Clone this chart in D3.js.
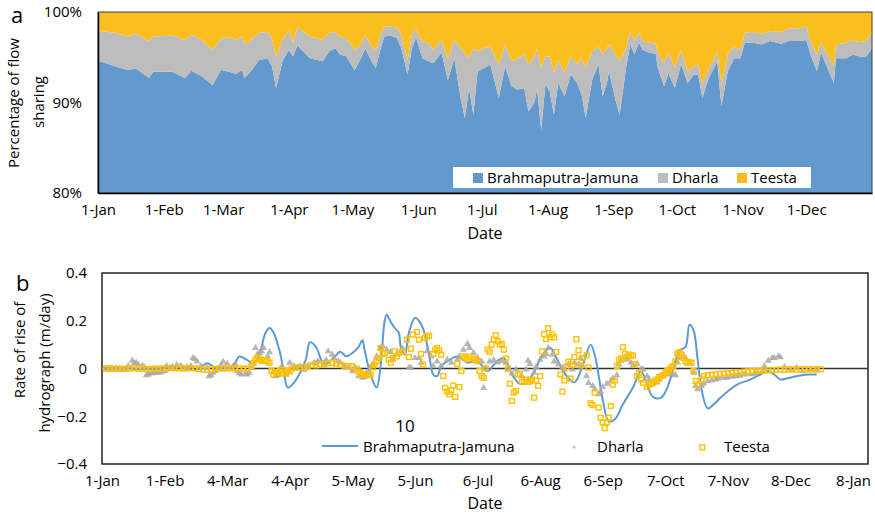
<!DOCTYPE html>
<html>
<head>
<meta charset="utf-8">
<script src="https://cdn.jsdelivr.net/npm/d3@7"></script>
<style>
  body { margin: 0; background: #fff; }
  svg { display: block; font-family: "Open Sans", sans-serif; }
</style>
</head>
<body>
<svg id="chart" width="875" height="516"></svg>
<script>
// ---- panel a: share of flow (%) ----
var flowDays = [0,1,8,14,18,24,26,35,41,44,49,54,58,62,65,68,69,72,76,80,82,84,87,90,92,94,100,106,109,112,114,117,121,124,126,129,131,133,135,138,141,143,146,148,150,151,153,156,158,162,165,168,171,173,175,177,179,182,185,189,192,195,198,201,203,206,207,209,211,213,215,217,220,223,226,228,230,233,236,238,240,241,244,246,249,251,253,255,257,260,263,264,267,269,272,275,278,281,283,285,288,290,292,294,297,300,303,305,309,313,317,322,326,331,334,336,339,341,344,347,348,353,356,359,362,365];
var bjShare = [94.5,94.55,94.0,93.6,93.75,92.7,93.4,93.4,92.7,93.5,92.9,91.9,93.6,93.4,93.15,93.6,92.7,93.45,94.7,94.9,94.0,91.6,94.55,95.8,95.1,96.3,94.9,94.55,95.65,96.0,95.3,95.1,93.6,94.9,96.0,94.55,93.8,95.65,97.3,97.4,97.1,96.0,93.1,96.0,97.2,96.4,94.9,94.55,94.35,95.5,92.5,94.9,90.5,88.3,91.6,88.65,93.45,93.8,94.2,90.5,94.0,91.8,91.4,91.6,89.0,90.1,91.6,87.0,92.0,91.25,88.65,92.15,90.7,93.1,92.15,90.9,88.3,92.5,94.2,90.7,92.15,93.45,90.3,88.65,93.8,96.4,95.3,96.6,95.8,95.5,95.35,93.8,91.8,93.25,91.6,94.25,92.15,93.1,93.1,90.5,92.7,93.6,94.55,89.6,93.45,94.9,94.9,96.6,96.6,96.4,96.8,96.5,96.8,96.8,96.9,95.3,93.45,95.5,93.8,92.15,94.9,94.9,95.3,95.1,95.0,96.0];
var dharlaShare = [3.3,3.35,3.7,3.7,3.85,4.1,3.9,4.0,4.2,4.0,4.0,3.9,3.45,3.8,3.75,3.7,3.7,3.45,3.0,2.9,3.1,3.4,2.35,2.2,1.5,2.0,2.4,2.35,2.05,1.8,2.0,2.0,2.2,1.5,1.5,1.65,2.0,1.85,1.1,1.0,1.2,1.5,1.6,1.5,1.1,1.1,1.9,1.95,1.45,1.4,2.4,2.0,5.5,7.2,3.3,7.35,2.2,2.2,2.0,3.7,2.4,2.75,3.5,3.7,5.2,5.0,4.4,6.8,3.1,3.85,4.6,2.55,2.55,2.0,2.05,4.0,5.5,3.15,2.0,4.6,3.85,2.95,5.0,5.9,2.2,1.4,1.5,1.1,1.0,1.1,1.15,1.7,2.55,2.25,2.2,1.55,1.3,0.9,1.1,1.5,1.1,0.95,1.1,2.4,1.85,1.3,0.9,1.1,1.2,1.2,1.1,1.3,1.4,1.4,1.5,1.5,1.85,1.1,1.5,1.85,1.5,1.7,1.6,1.55,1.8,1.7];
var teestaShare = [2.2,2.1,2.3,2.7,2.4,3.2,2.7,2.6,3.1,2.5,3.1,4.2,2.95,2.8,3.1,2.7,3.6,3.1,2.3,2.2,2.9,5.0,3.1,2.0,3.4,1.7,2.7,3.1,2.3,2.2,2.7,2.9,4.2,3.6,2.5,3.8,4.2,2.5,1.6,1.6,1.7,2.5,5.3,2.5,1.7,2.5,3.2,3.5,4.2,3.1,5.1,3.1,4.0,4.5,5.1,4.0,4.35,4.0,3.8,5.8,3.6,5.45,5.1,4.7,5.8,4.9,4.0,6.2,4.9,4.9,6.75,5.3,6.75,4.9,5.8,5.1,6.2,4.35,3.8,4.7,4.0,3.6,4.7,5.45,4.0,2.2,3.2,2.3,3.2,3.4,3.5,4.5,5.65,4.5,6.2,4.2,6.55,6.0,5.8,8.0,6.2,5.45,4.35,8.0,4.7,3.8,4.2,2.3,2.2,2.4,2.1,2.2,1.8,1.8,1.6,3.2,4.7,3.4,4.7,6.0,3.6,3.4,3.1,3.35,3.2,2.3];
var flowKeys = ["Brahmaputra-Jamuna", "Dharla", "Teesta"];
var shareTicks = [80, 90, 100];
var monthDays = [0,31,59,90,120,151,181,212,243,273,304,334];
var monthLabels = ["1-Jan","1-Feb","1-Mar","1-Apr","1-May","1-Jun","1-Jul","1-Aug","1-Sep","1-Oct","1-Nov","1-Dec"];

// ---- panel b: rate of rise of hydrograph (m/day) ----
var bjRiseDay = [0,10,20,30,37,42,47,52,56,61,65,68,72,75,78,81,83,85,88,90,92,95,98,101,103,106,109,111,115,118,121,124,127,129,130,133,136,138,140,141,143,145,147,148,150,152,155,157,159,162,164,166,168,171,176,181,186,191,195,199,203,207,210,214,218,222,225,230,234,238,242,244,246,248,251,254,258,263,267,270,273,277,280,284,286,289,291,293,295,297,300,303,306,310,315,320,325,330,333,336,340,345,350,354];
var bjRise = [0,0.002,-0.003,0.002,0.006,0,-0.005,0.022,0.004,0.002,0.01,0.05,0.035,0.02,0.06,0.15,0.17,0.15,0.072,-0.01,-0.08,-0.06,-0.02,0.04,0.11,0.09,0.03,0.02,0.047,0.07,0.051,0.065,0.09,0.118,0.08,-0.025,-0.08,0.01,0.2,0.225,0.195,0.17,0.15,0.09,0.058,0.15,0.212,0.2,0.168,0.06,-0.025,-0.032,0.01,0.03,0.05,0.025,0.03,-0.011,0.025,0.044,-0.025,-0.065,-0.06,-0.015,0.055,0.087,0.045,-0.03,-0.058,0.01,0.1,0.06,-0.03,-0.13,-0.222,-0.213,-0.15,-0.08,-0.01,-0.07,-0.12,-0.122,-0.08,0.03,0.075,0.09,0.183,0.16,0.04,-0.09,-0.167,-0.15,-0.125,-0.095,-0.065,-0.05,-0.03,-0.011,-0.025,-0.046,-0.04,-0.03,-0.025,-0.025];

var dharlaDay = [2,4,6,8,10,12,13,15,16,17,18,20,21,22,23,24,25,26,27,28,29,30,31,32,34,35,37,39,40,42,44,45,46,47,49,50,52,53,54,55,56,58,59,60,62,63,65,66,67,68,69,71,72,73,74,76,77,78,79,80,82,83,85,86,87,88,89,91,92,93,95,96,98,100,101,102,105,106,107,110,111,112,114,115,117,118,120,122,124,125,127,129,130,131,133,134,136,138,139,141,143,144,146,148,149,152,153,155,157,158,161,163,164,166,168,171,173,176,177,179,181,182,184,186,188,189,190,192,194,196,198,200,201,203,205,208,210,211,212,214,215,217,219,220,221,223,224,226,228,229,231,233,234,236,237,238,240,241,243,244,246,247,248,250,252,253,255,256,257,259,260,262,263,265,267,268,270,271,273,275,276,278,280,281,283,284,285,286,288,289,291,293,294,295,297,298,300,302,304,305,307,309,310,312,314,316,318,321,323,324,327,328,330,332,333,335,336,338,341,344,347,351,354];
var dharlaRise = [-0.003,-0.005,-0.004,-0.006,-0.005,-0.004,0.01,0.033,0.022,0.024,0.015,0.012,0.005,-0.028,-0.025,-0.018,-0.02,-0.018,-0.015,-0.018,-0.016,-0.012,-0.01,0.01,0.004,0.006,0.014,0.012,0.003,0.005,0.01,0.044,0.04,0.03,0.01,0.003,0.003,-0.032,-0.028,-0.018,-0.01,0,0.015,0.028,0.019,0.003,0.01,0.017,-0.011,-0.02,-0.025,-0.022,-0.025,-0.018,0.002,0.086,0.058,0.065,0.072,0.086,0.051,0.068,-0.011,-0.032,-0.028,-0.025,0.01,-0.025,-0.015,0.024,0.01,0.003,0.008,-0.005,0.004,0.01,0.024,0.02,0.03,0.02,0.035,0.072,0.058,0.044,0.03,0.024,0.01,0.003,-0.011,0.006,-0.032,-0.039,-0.035,-0.018,0.003,0.017,0.051,0.086,0.093,0.079,0.069,0.037,0.058,0.075,0.083,0.003,0.003,0.044,0.044,0.024,0.072,0.051,0.01,0.03,0.01,0.037,0.024,0.037,0.051,0.079,0.103,0.086,0.065,0.044,0.03,-0.081,0.003,0.03,0.035,0.025,0.032,0.024,-0.004,-0.021,-0.004,-0.032,-0.004,0.033,0.019,-0.018,0.006,0.037,0.051,0.061,0.086,0.058,0.03,0.017,0.003,-0.004,0.017,-0.004,0.024,0.017,0.044,0.01,-0.032,-0.06,-0.073,-0.087,-0.108,-0.097,-0.078,-0.064,-0.053,-0.042,-0.028,0.017,0.033,0.047,0.037,0.024,0.013,0.02,-0.004,-0.004,-0.032,-0.046,-0.053,-0.058,-0.046,-0.032,-0.025,-0.018,-0.025,-0.028,0.026,0.044,0.05,0.044,0.024,-0.018,-0.073,-0.087,-0.073,-0.064,-0.053,-0.05,-0.046,-0.042,-0.039,-0.038,-0.036,-0.034,-0.032,-0.03,-0.025,-0.024,-0.022,-0.02,-0.011,0.01,0.033,0.044,0.044,0.051,0.047,0.006,-0.004,0.003,-0.011,-0.004,-0.008,-0.004];

var teestaDay = [2,4,6,8,10,12,14,16,18,20,22,24,26,28,30,32,34,36,38,40,42,44,46,48,50,52,54,56,58,60,62,64,66,68,70,72,74,75,76,77,78,79,80,81,82,83,84,85,86,87,88,89,90,91,92,93,94,96,98,100,102,104,106,108,110,112,114,116,118,120,122,124,126,127,128,129,130,131,132,133,134,135,136,137,138,139,140,142,143,144,145,146,147,149,151,152,153,154,156,157,158,159,160,161,162,164,165,166,167,168,169,170,171,172,173,174,175,176,177,178,179,180,181,182,184,185,186,187,188,189,190,191,192,193,194,195,196,197,198,199,200,201,202,203,204,205,206,207,208,209,210,211,212,213,214,215,216,217,218,219,220,221,222,223,224,225,227,228,229,230,231,232,233,234,235,236,237,238,240,241,242,243,244,246,247,248,249,250,251,252,253,254,255,256,257,258,259,260,261,262,263,264,265,266,267,268,270,271,272,273,274,275,276,277,278,279,280,281,282,283,284,285,286,287,288,289,290,291,292,293,294,295,297,298,300,302,304,306,308,310,312,314,316,318,320,322,324,326,328,330,332,334,336,338,340,342,344,346,348,350,352,354,356];
var teestaRise = [0,0.001,-0.001,0,-0.002,-0.001,0,0.001,0,-0.001,-0.002,-0.002,-0.001,0,0,0.001,0.002,0.002,0.001,0,0.001,0.002,0.001,-0.002,-0.004,-0.005,-0.004,-0.002,0,0,0.001,0.001,0,0,-0.001,0,0.01,0.024,0.038,0.045,0.04,0.032,0.035,0.033,0.03,0.024,-0.011,-0.025,-0.015,-0.018,-0.008,-0.005,-0.018,-0.022,-0.01,-0.012,0,0.003,0.005,0.006,0.008,0.015,0.013,0.017,0.018,0.022,0.024,0.02,0.016,0.012,0.01,0.01,0,-0.012,-0.02,-0.025,-0.027,-0.028,-0.027,-0.025,0.005,0.015,0.03,0.044,0.086,0.061,0.065,0.037,0.024,0.044,0.072,0.051,0.065,0.07,0.121,0.048,0.083,0.142,0.153,0.121,0.061,0.017,0.128,0.135,0.138,0.061,0.079,0.086,0.075,0.058,-0.032,-0.081,-0.097,-0.108,-0.091,-0.071,-0.119,0.02,-0.078,-0.011,0.051,0.045,0.04,0.05,0.042,0.038,0.03,-0.011,-0.032,-0.039,0,0.079,0.07,0.1,0.121,0.139,0.114,0.1,0.103,0.079,0.042,0,-0.064,-0.136,-0.101,-0.094,-0.025,-0.022,-0.056,-0.056,-0.046,-0.056,-0.053,-0.046,-0.122,-0.05,-0.073,-0.032,0.072,0.144,0.123,0.169,0.131,0.142,0.131,0.069,-0.025,-0.097,-0.05,0.007,0.028,-0.042,0.016,0.048,0.123,0.076,0.013,0.044,0.055,0.004,-0.146,-0.153,-0.101,-0.164,-0.206,-0.226,-0.25,-0.226,-0.206,-0.157,-0.067,-0.05,0.01,0.037,0.042,0.089,0.061,0.047,0.058,0.055,0.054,0.017,-0.032,-0.018,-0.046,-0.06,-0.078,-0.067,-0.064,-0.06,-0.052,-0.046,-0.036,-0.032,-0.028,-0.02,-0.011,-0.005,0.004,0.01,0.03,0.061,0.068,0.058,0.044,0.03,0.024,0.027,0.024,-0.011,-0.053,-0.067,-0.046,-0.032,-0.028,-0.026,-0.024,-0.022,-0.021,-0.02,-0.018,-0.016,-0.015,-0.013,-0.012,-0.011,-0.01,-0.009,-0.008,-0.007,-0.006,-0.006,-0.005,-0.005,-0.004,-0.004,-0.004,-0.004,-0.003,-0.004,-0.003,-0.003,-0.003];

var riseTicks = [-0.4, -0.2, 0, 0.2, 0.4];
var riseTickDays = [0,31,62,93,124,155,186,217,248,279,310,341,372];
var riseTickLabels = ["1-Jan","1-Feb","4-Mar","4-Apr","5-May","5-Jun","6-Jul","6-Aug","6-Sep","7-Oct","7-Nov","8-Dec","8-Jan"];

var COLORS = { bj: "#6499CD", dh: "#BDBDBD", ts: "#FABE1E", line: "#5B9BD5", tri: "#A9A9A9", sq: "#FFC000" };

var svg = d3.select("#chart");

// =================== panel a ===================
var xa = d3.scaleLinear().domain([0, 365]).range([98, 872]);
var ya = d3.scaleLinear().domain([80, 100]).range([193, 12]);

var rows = flowDays.map(function(d, i) {
  return { day: d, "Brahmaputra-Jamuna": bjShare[i], "Dharla": dharlaShare[i], "Teesta": teestaShare[i] };
});
var stacked = d3.stack().keys(flowKeys).offset(d3.stackOffsetExpand)(rows);
var areaFill = [COLORS.bj, COLORS.dh, COLORS.ts];

svg.append("clipPath").attr("id", "clipA")
  .append("rect").attr("x", 98).attr("y", 12).attr("width", 774).attr("height", 181);

var area = d3.area()
  .x(function(d) { return xa(d.data.day); })
  .y0(function(d) { return ya(d[0] * 100); })
  .y1(function(d) { return ya(d[1] * 100); });

svg.append("g").attr("clip-path", "url(#clipA)")
  .selectAll("path").data(stacked).join("path")
  .attr("d", area)
  .attr("fill", function(d, i) { return areaFill[i]; });

svg.append("rect").attr("x", 98).attr("y", 12).attr("width", 774).attr("height", 181)
  .attr("fill", "none").attr("stroke", "#404040").attr("stroke-width", 1);

var ayAxis = svg.append("g").attr("transform", "translate(98,0)")
  .call(d3.axisLeft(ya).tickValues(shareTicks).tickSize(0).tickPadding(16).tickFormat(function(d) { return d + "%"; }));
ayAxis.select(".domain").attr("stroke", "#000").attr("stroke-width", 1.5);
ayAxis.selectAll("text").attr("font-size", 15).attr("fill", "#000").attr("font-family", "Open Sans");

var axAxis = svg.append("g").attr("transform", "translate(0,193)")
  .call(d3.axisBottom(xa).tickValues(monthDays).tickSize(0).tickPadding(11)
    .tickFormat(function(d, i) { return monthLabels[i]; }));
axAxis.select(".domain").attr("stroke", "#000").attr("stroke-width", 1.5);
axAxis.selectAll("text").attr("font-size", 15).attr("fill", "#000").attr("font-family", "Open Sans");

svg.append("text").attr("x", 485).attr("y", 239).attr("text-anchor", "middle")
  .attr("font-size", 16).text("Date");
svg.append("text").attr("transform", "translate(19,103) rotate(-90)").attr("text-anchor", "middle")
  .attr("font-size", 15).text("Percentage of flow");
svg.append("text").attr("transform", "translate(44,102) rotate(-90)").attr("text-anchor", "middle")
  .attr("font-size", 15).text("sharing");
svg.append("text").attr("x", 11).attr("y", 23).attr("font-size", 22).text("a");

// legend a
var legA = svg.append("g");
legA.append("rect").attr("x", 453).attr("y", 167).attr("width", 358).attr("height", 21).attr("fill", "#fff");
var legAItems = [
  { name: flowKeys[0], color: COLORS.bj, x: 473 },
  { name: flowKeys[1], color: COLORS.dh, x: 658 },
  { name: flowKeys[2], color: COLORS.ts, x: 737 }
];
legAItems.forEach(function(it) {
  legA.append("rect").attr("x", it.x).attr("y", 173).attr("width", 10).attr("height", 10).attr("fill", it.color);
  legA.append("text").attr("x", it.x + 14).attr("y", 183).attr("font-size", 15).text(it.name);
});

// =================== panel b ===================
var xb = d3.scaleLinear().domain([0, 379.4]).range([102, 868]);
var yb = d3.scaleLinear().domain([-0.4, 0.4]).range([464, 273]);

svg.append("rect").attr("x", 102).attr("y", 273).attr("width", 766).attr("height", 191)
  .attr("fill", "none").attr("stroke", "#000").attr("stroke-width", 1.3);

var byAxis = svg.append("g").attr("transform", "translate(102,0)")
  .call(d3.axisLeft(yb).tickValues(riseTicks).tickSize(0).tickPadding(15)
    .tickFormat(function(d) { return d === 0 ? "0" : d3.format(".1f")(d); }));
byAxis.select(".domain").remove();
byAxis.selectAll("text").attr("font-size", 15).attr("fill", "#000").attr("font-family", "Open Sans");

var bxAxis = svg.append("g").attr("transform", "translate(0,464)")
  .call(d3.axisBottom(xb).tickValues(riseTickDays).tickSize(0).tickPadding(11)
    .tickFormat(function(d, i) { return riseTickLabels[i]; }));
bxAxis.select(".domain").remove();
bxAxis.selectAll("text").attr("font-size", 15).attr("fill", "#000").attr("font-family", "Open Sans");

// zero line
svg.append("line").attr("x1", xb(0)).attr("x2", 868).attr("y1", yb(0)).attr("y2", yb(0))
  .attr("stroke", "#333").attr("stroke-width", 1.5);

var riseLine = d3.line()
  .x(function(d) { return xb(d[0]); })
  .y(function(d) { return yb(d[1]); })
  .curve(d3.curveCatmullRom.alpha(0.5));
svg.append("path").attr("d", riseLine(d3.zip(bjRiseDay, bjRise)))
  .attr("fill", "none").attr("stroke", COLORS.line).attr("stroke-width", 2);

var tri = d3.symbol().type(d3.symbolTriangle).size(22);
svg.append("g").selectAll("path").data(d3.zip(dharlaDay, dharlaRise)).join("path")
  .attr("transform", function(d) { return "translate(" + xb(d[0]) + "," + yb(d[1]) + ")"; })
  .attr("d", tri).attr("fill", COLORS.tri).attr("opacity", 0.85);

svg.append("g").selectAll("rect").data(d3.zip(teestaDay, teestaRise)).join("rect")
  .attr("x", function(d) { return xb(d[0]) - 2.4; })
  .attr("y", function(d) { return yb(d[1]) - 2.4; })
  .attr("width", 4.8).attr("height", 4.8)
  .attr("fill", "none").attr("stroke", COLORS.sq).attr("stroke-width", 1.4);

svg.append("text").attr("x", 485).attr("y", 509).attr("text-anchor", "middle")
  .attr("font-size", 16).text("Date");
svg.append("text").attr("transform", "translate(25,350) rotate(-90)").attr("text-anchor", "middle")
  .attr("font-size", 15).text("Rate of rise of");
svg.append("text").attr("transform", "translate(50,363) rotate(-90)").attr("text-anchor", "middle")
  .attr("font-size", 15).text("hydrograph (m/day)");
svg.append("text").attr("x", 16).attr("y", 291).attr("font-size", 22).text("b");

// legend b
svg.append("text").attr("x", 405).attr("y", 432).attr("text-anchor", "middle").attr("font-size", 17).text("10");
var legB = svg.append("g");
legB.append("line").attr("x1", 322).attr("x2", 358).attr("y1", 446).attr("y2", 446)
  .attr("stroke", COLORS.line).attr("stroke-width", 2);
legB.append("text").attr("x", 363).attr("y", 452).attr("font-size", 15).text(flowKeys[0]);
legB.append("path").attr("transform", "translate(574,447)")
  .attr("d", d3.symbol().type(d3.symbolTriangle).size(8)).attr("fill", "#C8C8C8");
legB.append("text").attr("x", 597).attr("y", 452).attr("font-size", 15).text(flowKeys[1]);
legB.append("rect").attr("x", 700).attr("y", 445).attr("width", 4.8).attr("height", 4.8)
  .attr("fill", "none").attr("stroke", COLORS.sq).attr("stroke-width", 1.4);
legB.append("text").attr("x", 724).attr("y", 452).attr("font-size", 15).text(flowKeys[2]);
</script>
</body>
</html>
